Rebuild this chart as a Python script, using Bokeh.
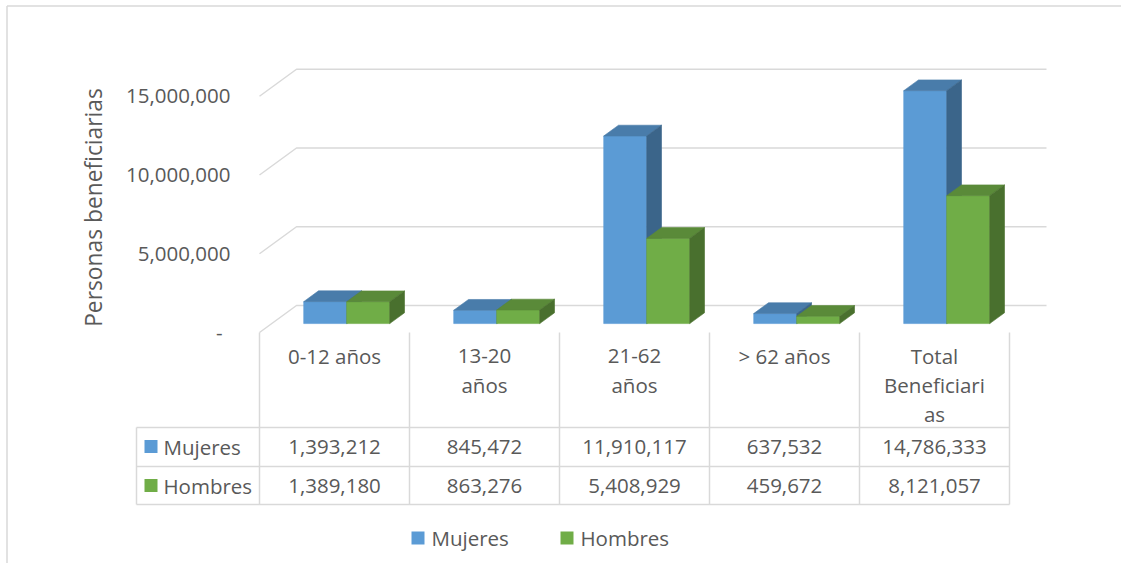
import math
from bokeh.plotting import figure
from bokeh.models import Range1d, ColumnDataSource
from bokeh.core.properties import value
from bokeh.embed import file_html
from bokeh.resources import INLINE

# ---------------- data ----------------
categories = ["0-12 años", "13-20 años", "21-62 años", "> 62 años", "Total Beneficiarias"]
category_lines = [["0-12 años"], ["13-20", "años"], ["21-62", "años"], ["> 62 años"],
                  ["Total", "Beneficiari", "as"]]
mujeres = [1393212, 845472, 11910117, 637532, 14786333]
hombres = [1389180, 863276, 5408929, 459672, 8121057]
series_names = ["Mujeres", "Hombres"]
y_ticks = [0, 5000000, 10000000, 15000000]
y_tick_labels = ["-", "5,000,000", "10,000,000", "15,000,000"]
axis_title = "Personas beneficiarias"

# ---------------- style ----------------
FRONT = ["#5B9BD5", "#70AD47"]
TOP = ["#497CAA", "#5A8A39"]
SIDE = ["#3B658A", "#49702E"]
TEXT = "#595959"
GRID = "#D9D9D9"
FONT = value("Open Sans")
FS = value("20.5px")

# ---------------- layout (pixels) ----------------
W, H, M = 1121, 563, 0
X0, CW = 259.0, 150.0
Y0, PX_PER_UNIT = 332.0, 15.75 / 1e6
DEPTH_X, DEPTH_Y = 37.0, 27.0
BAR_GAP, BAR_W = 32.0, 43.0
F0, F1 = 0.33, 0.73


def dx(px):
    return px / CW


def dy(px):
    return px / PX_PER_UNIT


def X(wx):
    return (wx - X0) / CW


def Y(wy):
    return (Y0 - wy) / PX_PER_UNIT


p = figure(width=W, height=H, output_backend="svg", toolbar_location=None,
           x_range=Range1d(X(M), X(M + W)), y_range=Range1d(Y(M + H), Y(M)),
           x_axis_type=None, y_axis_type=None, min_border=0,
           outline_line_color=None, background_fill_color="white",
           border_fill_color="white")
p.grid.visible = False

# outer chart frame (left and top edges)
p.multi_line(xs=[[X(6.5), X(6.5)], [X(6.5), X(M + W)]],
             ys=[[Y(M + H), Y(5.5)], [Y(5.5), Y(5.5)]],
             line_color=GRID, line_width=1.5)

# gridlines: side wall diagonal + back wall
n = len(categories)
gx, gy = [], []
for t in y_ticks:
    gx.append([0, dx(DEPTH_X), n + dx(DEPTH_X)])
    gy.append([t, t + dy(DEPTH_Y), t + dy(DEPTH_Y)])
p.multi_line(xs=gx, ys=gy, line_color=GRID, line_width=1.5)

# y tick labels
lab_x = [X(222) if lab == "-" else X(230) for lab in y_tick_labels]
p.text(x=lab_x, y=y_ticks, text=y_tick_labels, text_font=FONT, text_font_size=FS,
       text_color=TEXT, text_align="right", text_baseline="middle")

# axis title
p.text(x=[X(93)], y=[Y(207)], text=[axis_title], angle=math.pi / 2,
       text_font=FONT, text_font_size=value("22.8px"), text_color=TEXT,
       text_align="center", text_baseline="middle")

# 3D bars
fx, fy = dx(F0 * DEPTH_X), dy(F0 * DEPTH_Y)
bx, by = dx(F1 * DEPTH_X), dy(F1 * DEPTH_Y)
xs, ys, cols = [], [], []
for i in range(n):
    for s, vals in enumerate([mujeres, hombres]):
        v = vals[i]
        left = i + dx(BAR_GAP + BAR_W * s)
        right = left + dx(BAR_W)
        # front
        xs.append([left + fx, right + fx, right + fx, left + fx])
        ys.append([fy, fy, v + fy, v + fy])
        cols.append(FRONT[s])
        # top
        xs.append([left + fx, right + fx, right + bx, left + bx])
        ys.append([v + fy, v + fy, v + by, v + by])
        cols.append(TOP[s])
        # side
        xs.append([right + fx, right + bx, right + bx, right + fx])
        ys.append([fy, by, v + by, v + fy])
        cols.append(SIDE[s])
src = ColumnDataSource(dict(xs=xs, ys=ys, c=cols))
p.patches(xs="xs", ys="ys", fill_color="c", line_color="c", line_width=0.6, source=src)

# category labels
cx, cy, ct = [], [], []
for i, lines in enumerate(category_lines):
    for j, line in enumerate(lines):
        cx.append(i + 0.5)
        cy.append(Y(355 + 29 * j))
        ct.append(line)
p.text(x=cx, y=cy, text=ct, text_font=FONT, text_font_size=FS, text_color=TEXT,
       text_align="center", text_baseline="middle")

# data table grid
ROW_TOP, ROW_MID, ROW_BOT = 427.0, 466.0, 504.0
TBL_LEFT = 136.0
tx, ty = [], []
for yy in [ROW_TOP, ROW_MID, ROW_BOT]:
    tx.append([X(TBL_LEFT), n])
    ty.append([Y(yy), Y(yy)])
for k in range(n + 1):
    tx.append([k, k])
    ty.append([Y(Y0), Y(ROW_BOT)])
tx.append([X(TBL_LEFT), X(TBL_LEFT)])
ty.append([Y(ROW_TOP), Y(ROW_BOT)])
p.multi_line(xs=tx, ys=ty, line_color=GRID, line_width=1.5)

row_centers = [446.0, 485.0]
for s, vals in enumerate([mujeres, hombres]):
    ry = Y(row_centers[s])
    p.scatter(x=[X(150.5)], y=[ry], marker="square", size=13, fill_color=FRONT[s],
              line_color=None)
    p.text(x=[X(163)], y=[ry], text=[series_names[s]], text_font=FONT, text_font_size=FS,
           text_color=TEXT, text_align="left", text_baseline="middle")
    p.text(x=[i + 0.5 for i in range(n)], y=[ry] * n, text=[f"{v:,}" for v in vals],
           text_font=FONT, text_font_size=FS, text_color=TEXT, text_align="center",
           text_baseline="middle")

# bottom legend
leg_sw_x = [417.5, 566.5]
leg_tx = [431, 580]
for s in range(2):
    p.scatter(x=[X(leg_sw_x[s])], y=[Y(537.5)], marker="square", size=13,
              fill_color=FRONT[s], line_color=None)
    p.text(x=[X(leg_tx[s])], y=[Y(537)], text=[series_names[s]], text_font=FONT,
           text_font_size=FS, text_color=TEXT, text_align="left", text_baseline="middle")

open("out.html", "w").write(file_html(p, INLINE))
